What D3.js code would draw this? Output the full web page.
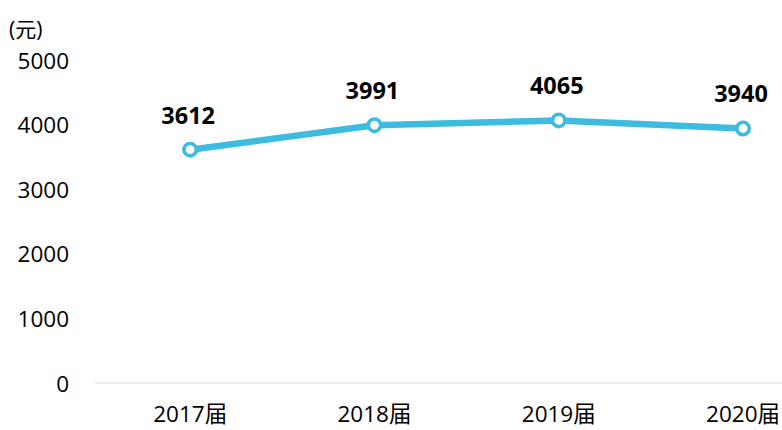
<!DOCTYPE html>
<html>
<head>
<meta charset="utf-8">
<script src="https://cdn.jsdelivr.net/npm/d3@7"></script>
<style>
  html, body { margin: 0; padding: 0; background: #fff; }
  svg { display: block; }
</style>
</head>
<body>
<div id="chart"></div>
<script>
// Average monthly income by graduating class
const categories = ["2017届", "2018届", "2019届", "2020届"];
const values = [3612, 3991, 4065, 3940];
const yTicks = [0, 1000, 2000, 3000, 4000, 5000];
const unitLabel = "(元)";

const W = 782, H = 430;
const font = "'Open Sans', 'Noto Sans CJK SC', sans-serif";
const lineColor = "#3dbcdf";

const svg = d3.select("#chart").append("svg")
  .attr("width", W).attr("height", H);

const x = d3.scaleBand().domain(categories).range([98, 98 + 4 * 184.3]);
const y = d3.scaleLinear().domain([0, 5000]).range([383, 60]);

// baseline
svg.append("line")
  .attr("x1", 95).attr("x2", W)
  .attr("y1", y(0)).attr("y2", y(0))
  .attr("stroke", "#d9d9d9").attr("stroke-width", 1.2);

// y tick labels
const yAxis = d3.axisLeft(y).tickValues(yTicks).tickFormat(d3.format("d"))
  .tickSize(0).tickPadding(0);
const gy = svg.append("g").attr("transform", "translate(69,0)").call(yAxis);
gy.select(".domain").remove();
gy.selectAll("text")
  .attr("font-family", font).attr("font-size", 22.5)
  .attr("fill", "#000").attr("dy", "0.36em");

// unit label
svg.append("text")
  .attr("x", 9).attr("y", 37)
  .attr("font-family", font).attr("font-size", 21)
  .attr("fill", "#000").text(unitLabel);

// x category labels
const xAxis = d3.axisBottom(x).tickSize(0).tickPadding(0);
const gx = svg.append("g").attr("transform", "translate(0,422)").call(xAxis);
gx.select(".domain").remove();
gx.selectAll("text")
  .attr("font-family", font).attr("font-size", 22.5)
  .attr("fill", "#000").attr("dy", 0).attr("y", 0);

const cx = d => x(d) + x.bandwidth() / 2;

// line
const line = d3.line()
  .x((d, i) => cx(categories[i]))
  .y(d => y(d));
svg.append("path")
  .datum(values)
  .attr("d", line)
  .attr("fill", "none")
  .attr("stroke", lineColor)
  .attr("stroke-width", 6.5)
  .attr("stroke-linejoin", "round");

// markers
svg.selectAll("circle.pt")
  .data(values)
  .join("circle")
  .attr("class", "pt")
  .attr("cx", (d, i) => cx(categories[i]))
  .attr("cy", d => y(d))
  .attr("r", 6.2)
  .attr("fill", "#fff")
  .attr("stroke", lineColor)
  .attr("stroke-width", 3.6);

// value labels
svg.selectAll("text.val")
  .data(values)
  .join("text")
  .attr("class", "val")
  .attr("x", (d, i) => cx(categories[i]) - 2)
  .attr("y", d => y(d) - 26)
  .attr("text-anchor", "middle")
  .attr("font-family", font)
  .attr("font-weight", "bold")
  .attr("font-size", 23.5)
  .attr("fill", "#000")
  .text(d => d);
</script>
</body>
</html>
